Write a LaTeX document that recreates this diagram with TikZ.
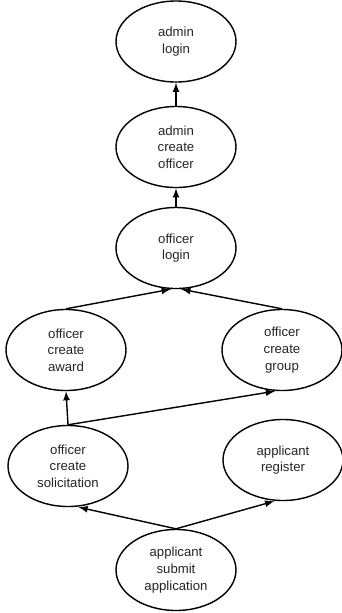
\documentclass[tikz,border=0pt]{standalone}
\usepackage{fontspec}
\setmainfont{Liberation Sans}
\usetikzlibrary{shapes.geometric}
\tikzset{
  task/.style={draw, ellipse, thick, minimum width=2.4cm, minimum height=1.62cm,
    align=center, inner sep=0pt, font=\fontsize{7.5}{9.5}\selectfont, text=black!85},
  dep/.style={-latex, thick}
}
\begin{document}
\begin{tikzpicture}
  \useasboundingbox (0,0) rectangle (6.84,-12.26);
  \node[task] (adminlogin) at (3.52,-0.83) {admin\\login};
  \node[task] (admincreate) at (3.52,-2.94) {admin\\create\\officer};
  \node[task] (ologin) at (3.52,-4.96) {officer\\login};
  \node[task] (award) at (1.32,-7.0) {officer\\create\\award};
  \node[task] (group) at (5.64,-7.0) {officer\\create\\group};
  \node[task] (solicit) at (1.36,-9.32) {officer\\create\\solicitation};
  \node[task] (register) at (5.66,-9.2) {applicant\\register};
  \node[task] (submit) at (3.52,-11.4) {applicant\\submit\\application};
  % dependencies point upward
  \draw[dep] (admincreate) -- (adminlogin);
  \draw[dep] (ologin) -- (admincreate);
  \draw[dep] (award.north) -- ([xshift=-3pt]ologin.south);
  \draw[dep] (group.north) -- ([xshift=3pt]ologin.south);
  \draw[dep] (solicit.north) -- (award.south);
  \draw[dep] (solicit.north) -- ([xshift=-4pt]group.south);
  \draw[dep] (submit.north) -- ([xshift=6pt]solicit.south);
  \draw[dep] (submit.north) -- ([xshift=-5pt]register.south);
\end{tikzpicture}
\end{document}
